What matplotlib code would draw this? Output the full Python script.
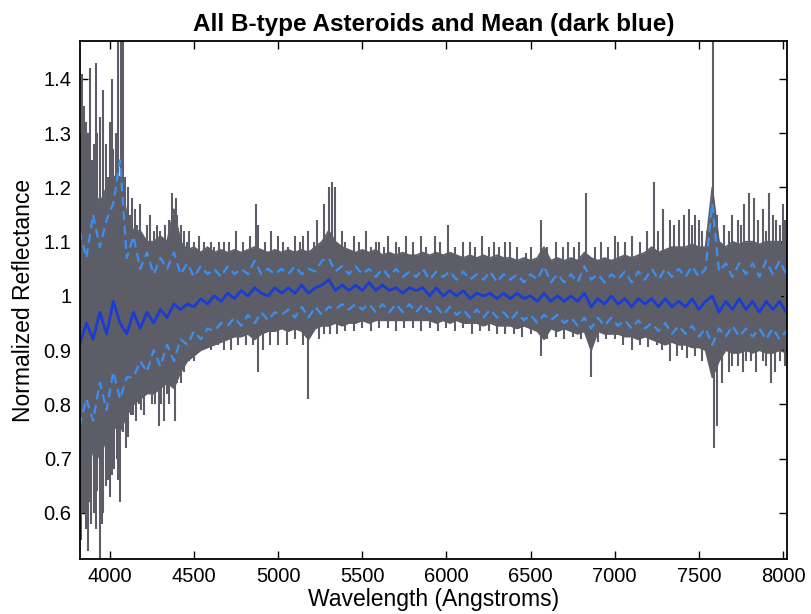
import numpy as np
import matplotlib
matplotlib.use("Agg")
import matplotlib.pyplot as plt

plt.rcParams['font.family'] = ['Liberation Sans', 'DejaVu Sans']

# Wavelength sampling (Angstroms)
wavelength = np.arange(3820, 8021, 40)

mean_refl = [
    0.91, 0.95, 0.92, 0.97, 0.93, 0.99, 0.95, 0.93, 0.97, 0.94,
    0.97, 0.95, 0.975, 0.96, 0.985, 0.975, 0.985, 0.98, 0.995, 0.985,
    1.0, 0.99, 1.005, 0.995, 1.01, 1.0, 1.015, 1.005, 1.0, 1.015,
    1.005, 1.015, 1.005, 1.02, 1.005, 1.015, 1.02, 1.03, 1.01, 1.02,
    1.01, 1.02, 1.01, 1.025, 1.01, 1.02, 1.01, 1.015, 1.005, 1.015,
    1.01, 1.015, 1.0, 1.015, 1.0, 1.01, 1.0, 1.01, 0.995, 1.005,
    1.0, 1.005, 0.995, 1.005, 0.995, 1.005, 0.995, 1.0, 0.99, 1.005,
    0.99, 1.0, 0.99, 1.0, 0.99, 1.005, 0.98, 0.995, 0.985, 1.0,
    0.985, 0.995, 0.98, 0.995, 0.985, 0.995, 0.98, 0.995, 0.98, 0.99,
    0.98, 0.995, 0.975, 0.99, 1.0, 0.97, 0.99, 0.975, 0.995, 0.975,
    0.99, 0.97, 0.99, 0.975, 0.99, 0.97,
]

std_upper = [
    1.12, 1.07, 1.15, 1.09, 1.14, 1.17, 1.25, 1.07, 1.11, 1.05,
    1.08, 1.04, 1.07, 1.05, 1.08, 1.04, 1.06, 1.035, 1.055, 1.04,
    1.05, 1.035, 1.055, 1.04, 1.05, 1.04, 1.065, 1.04, 1.05, 1.04,
    1.05, 1.04, 1.055, 1.04, 1.05, 1.045, 1.065, 1.07, 1.045, 1.055,
    1.04, 1.055, 1.04, 1.05, 1.035, 1.05, 1.035, 1.05, 1.035, 1.045,
    1.035, 1.05, 1.03, 1.045, 1.035, 1.045, 1.03, 1.045, 1.03, 1.04,
    1.03, 1.045, 1.025, 1.04, 1.03, 1.04, 1.025, 1.04, 1.03, 1.055,
    1.025, 1.04, 1.025, 1.04, 1.025, 1.055, 1.03, 1.04, 1.025, 1.04,
    1.03, 1.045, 1.025, 1.045, 1.03, 1.05, 1.03, 1.05, 1.035, 1.05,
    1.035, 1.055, 1.035, 1.05, 1.17, 1.045, 1.06, 1.035, 1.06, 1.04,
    1.06, 1.035, 1.065, 1.04, 1.065, 1.04,
]

std_lower = [
    0.76, 0.81, 0.77, 0.84, 0.79, 0.86, 0.81, 0.85, 0.85, 0.88,
    0.86, 0.90, 0.87, 0.91, 0.88, 0.92, 0.91, 0.935, 0.92, 0.94,
    0.935, 0.95, 0.945, 0.96, 0.945, 0.965, 0.95, 0.97, 0.955, 0.97,
    0.965, 0.975, 0.96, 0.98, 0.96, 0.98, 0.965, 0.98, 0.975, 0.985,
    0.975, 0.985, 0.975, 0.985, 0.97, 0.985, 0.97, 0.985, 0.97, 0.985,
    0.97, 0.985, 0.97, 0.98, 0.965, 0.98, 0.965, 0.975, 0.96, 0.975,
    0.96, 0.975, 0.96, 0.97, 0.955, 0.97, 0.955, 0.965, 0.95, 0.965,
    0.955, 0.965, 0.95, 0.96, 0.945, 0.96, 0.94, 0.96, 0.945, 0.96,
    0.945, 0.955, 0.94, 0.955, 0.94, 0.95, 0.935, 0.95, 0.93, 0.945,
    0.93, 0.945, 0.925, 0.94, 0.91, 0.94, 0.925, 0.945, 0.925, 0.94,
    0.925, 0.94, 0.92, 0.94, 0.92, 0.935,
]

envelope_upper = [
    1.30, 1.22, 1.20, 1.17, 1.20, 1.22, 1.22, 1.15, 1.12, 1.12,
    1.10, 1.10, 1.11, 1.10, 1.16, 1.10, 1.085, 1.09, 1.08, 1.09,
    1.08, 1.085, 1.08, 1.085, 1.08, 1.085, 1.09, 1.085, 1.08, 1.085,
    1.08, 1.085, 1.08, 1.085, 1.08, 1.09, 1.10, 1.12, 1.10, 1.09,
    1.085, 1.08, 1.085, 1.08, 1.085, 1.075, 1.08, 1.075, 1.08, 1.075,
    1.075, 1.08, 1.075, 1.08, 1.075, 1.08, 1.075, 1.07, 1.075, 1.07,
    1.075, 1.07, 1.075, 1.07, 1.07, 1.065, 1.07, 1.065, 1.07, 1.09,
    1.065, 1.07, 1.065, 1.07, 1.065, 1.08, 1.07, 1.065, 1.07, 1.065,
    1.07, 1.075, 1.07, 1.075, 1.08, 1.09, 1.08, 1.085, 1.09, 1.09,
    1.09, 1.095, 1.09, 1.09, 1.20, 1.10, 1.09, 1.10, 1.095, 1.10,
    1.10, 1.095, 1.10, 1.10, 1.10, 1.10,
]

envelope_lower = [
    0.62, 0.66, 0.72, 0.70, 0.74, 0.76, 0.75, 0.78, 0.80, 0.81,
    0.82, 0.82, 0.83, 0.84, 0.83, 0.86, 0.88, 0.89, 0.90, 0.905,
    0.91, 0.915, 0.92, 0.925, 0.925, 0.93, 0.92, 0.93, 0.935, 0.935,
    0.94, 0.935, 0.94, 0.935, 0.92, 0.94, 0.945, 0.945, 0.95, 0.945,
    0.95, 0.95, 0.955, 0.95, 0.955, 0.955, 0.955, 0.955, 0.955, 0.955,
    0.955, 0.955, 0.955, 0.95, 0.955, 0.95, 0.955, 0.95, 0.95, 0.95,
    0.945, 0.95, 0.945, 0.945, 0.945, 0.94, 0.945, 0.94, 0.935, 0.92,
    0.94, 0.935, 0.94, 0.935, 0.93, 0.935, 0.90, 0.935, 0.93, 0.93,
    0.93, 0.925, 0.925, 0.92, 0.925, 0.92, 0.915, 0.91, 0.915, 0.91,
    0.91, 0.905, 0.905, 0.90, 0.85, 0.88, 0.90, 0.895, 0.895, 0.90,
    0.895, 0.90, 0.895, 0.895, 0.90, 0.895,
]

# Narrow spikes of individual spectra above the band (wavelength, peak)
spike_up_wl = [3825, 3835, 3845, 3855, 3870, 3880, 3895, 3905, 3918, 3925,
               3940, 3960, 3975, 3990, 4000, 4010, 4020, 4035, 4050, 4065,
               4080, 4090, 4110, 4120, 4130, 4150, 4160, 4180, 4200, 4220,
               4240, 4260, 4280, 4300, 4330, 4350, 4370, 4390, 4400, 4420,
               4440, 4460, 4470, 4500, 4530, 4560, 4600, 4620, 4650, 4680,
               4710, 4750, 4790, 4830, 4870, 4880, 4920, 4960, 5000, 5030,
               5060, 5100, 5130, 5150, 5180, 5210, 5230, 5270, 5300, 5320,
               5340, 5380, 5400, 5450, 5480, 5520, 5550, 5580, 5600, 5630,
               5650, 5700, 5720, 5760, 5800, 5850, 5880, 5930, 5960, 6010,
               6050, 6100, 6140, 6170, 6210, 6250, 6280, 6310, 6350, 6380,
               6420, 6470, 6500, 6560, 6600, 6650, 6690, 6720, 6760, 6790,
               6830, 6880, 6920, 6960, 7000, 7020, 7060, 7100, 7150, 7190,
               7233, 7260, 7290, 7330, 7350, 7380, 7410, 7440, 7460, 7480,
               7500, 7520, 7550, 7586, 7610, 7650, 7680, 7700, 7730, 7750,
               7770, 7800, 7830, 7850, 7880, 7900, 7920, 7940, 7960, 7980,
               8000, 8015]
spike_up_val = [1.30, 1.41, 1.35, 1.32, 1.30, 1.42, 1.25, 1.28, 1.43, 1.30,
                1.33, 1.38, 1.28, 1.22, 1.32, 1.40, 1.27, 1.30, 1.47, 1.47,
                1.47, 1.22, 1.20, 1.15, 1.18, 1.16, 1.13, 1.17, 1.10, 1.13,
                1.15, 1.12, 1.13, 1.12, 1.13, 1.14, 1.19, 1.18, 1.15, 1.13,
                1.12, 1.10, 1.12, 1.10, 1.11, 1.10, 1.10, 1.09, 1.10, 1.10,
                1.10, 1.12, 1.10, 1.11, 1.17, 1.13, 1.10, 1.12, 1.11, 1.10,
                1.09, 1.11, 1.10, 1.11, 1.12, 1.10, 1.14, 1.17, 1.20, 1.21,
                1.20, 1.12, 1.10, 1.11, 1.10, 1.12, 1.09, 1.10, 1.10, 1.09,
                1.11, 1.10, 1.09, 1.11, 1.10, 1.11, 1.09, 1.11, 1.10, 1.13,
                1.09, 1.10, 1.10, 1.09, 1.11, 1.09, 1.10, 1.09, 1.10, 1.10,
                1.09, 1.08, 1.09, 1.14, 1.09, 1.10, 1.09, 1.10, 1.09, 1.10,
                1.19, 1.09, 1.10, 1.09, 1.11, 1.10, 1.10, 1.11, 1.10, 1.12,
                1.21, 1.12, 1.16, 1.14, 1.13, 1.14, 1.15, 1.16, 1.13, 1.15,
                1.14, 1.12, 1.12, 1.47, 1.15, 1.13, 1.12, 1.15, 1.14, 1.13,
                1.17, 1.19, 1.18, 1.14, 1.16, 1.12, 1.19, 1.15, 1.14, 1.13,
                1.17, 1.14]

# Narrow dips of individual spectra below the band (wavelength, minimum)
spike_dn_wl = [3830, 3840, 3850, 3860, 3870, 3880, 3890, 3905, 3915, 3925,
               3940, 3950, 3960, 3975, 3990, 4000, 4010, 4025, 4040, 4050,
               4060, 4080, 4095, 4110, 4125, 4140, 4155, 4170, 4185, 4200,
               4230, 4250, 4270, 4290, 4305, 4320, 4340, 4350, 4385, 4400,
               4420, 4440, 4470, 4500, 4550, 4600, 4640, 4680, 4720, 4760,
               4810, 4850, 4880, 4910, 4950, 5000, 5050, 5100, 5150, 5180,
               5240, 5270, 5310, 5350, 5400, 5450, 5500, 5550, 5600, 5650,
               5700, 5750, 5800, 5850, 5900, 5950, 6000, 6050, 6100, 6150,
               6200, 6250, 6300, 6350, 6400, 6450, 6500, 6560, 6600, 6650,
               6700, 6750, 6800, 6860, 6900, 6950, 7000, 7050, 7100, 7150,
               7200, 7250, 7280, 7330, 7370, 7400, 7430, 7480, 7520, 7560,
               7590, 7610, 7640, 7680, 7700, 7730, 7760, 7780, 7810, 7840,
               7880, 7900, 7930, 7950, 7980, 8010]
spike_dn_val = [0.55, 0.60, 0.60, 0.57, 0.53, 0.62, 0.58, 0.60, 0.57, 0.64,
                0.50, 0.58, 0.60, 0.65, 0.66, 0.63, 0.67, 0.68, 0.70, 0.66,
                0.62, 0.75, 0.72, 0.74, 0.78, 0.78, 0.77, 0.80, 0.79, 0.78,
                0.82, 0.80, 0.80, 0.76, 0.80, 0.77, 0.82, 0.80, 0.77, 0.84,
                0.84, 0.86, 0.88, 0.88, 0.90, 0.90, 0.91, 0.90, 0.90, 0.91,
                0.91, 0.91, 0.86, 0.90, 0.91, 0.91, 0.91, 0.92, 0.91, 0.81,
                0.92, 0.93, 0.93, 0.93, 0.935, 0.935, 0.94, 0.935, 0.94, 0.94,
                0.935, 0.94, 0.94, 0.935, 0.94, 0.935, 0.94, 0.935, 0.94, 0.93,
                0.935, 0.935, 0.93, 0.93, 0.93, 0.925, 0.93, 0.89, 0.92, 0.925,
                0.92, 0.925, 0.92, 0.85, 0.915, 0.92, 0.92, 0.91, 0.90, 0.91,
                0.905, 0.91, 0.90, 0.88, 0.89, 0.90, 0.885, 0.89, 0.88, 0.88,
                0.72, 0.76, 0.84, 0.86, 0.87, 0.87, 0.86, 0.88, 0.88, 0.86,
                0.88, 0.87, 0.84, 0.86, 0.88, 0.87]

gray = '#5d5d68'
light_blue = '#3b8ff2'
dark_blue = '#1a3cd0'

fig = plt.figure(figsize=(8.12, 6.14), dpi=100)
ax = fig.add_axes([0.0985, 0.0896, 0.8707, 0.8436])

ax.fill_between(wavelength, envelope_lower, envelope_upper, color=gray, lw=0)
ax.plot(wavelength, envelope_upper, color=gray, lw=1.2)
ax.plot(wavelength, envelope_lower, color=gray, lw=1.2)
ax.vlines(spike_up_wl, 1.0, spike_up_val, color=gray, lw=1.5)
ax.vlines(spike_dn_wl, spike_dn_val, 1.0, color=gray, lw=1.5)

ax.plot(wavelength, std_upper, color=light_blue, lw=1.6, dashes=(4, 2.5))
ax.plot(wavelength, std_lower, color=light_blue, lw=1.6, dashes=(4, 2.5))
ax.plot(wavelength, mean_refl, color=dark_blue, lw=2.0)

ax.set_xlim(3822, 8024)
ax.set_ylim(0.515, 1.47)
ax.set_xticks([4000, 4500, 5000, 5500, 6000, 6500, 7000, 7500, 8000])
ax.set_yticks([0.6, 0.7, 0.8, 0.9, 1.0, 1.1, 1.2, 1.3, 1.4])
ax.set_yticklabels(['0.6', '0.7', '0.8', '0.9', '1', '1.1', '1.2', '1.3', '1.4'])
ax.tick_params(direction='in', top=True, right=True, length=6, width=1.0,
               labelsize=14.5, colors='black', pad=6)
for s in ax.spines.values():
    s.set_linewidth(1.3)

ax.set_xlabel('Wavelength (Angstroms)', fontsize=16.5, labelpad=1)
ax.set_ylabel('Normalized Reflectance', fontsize=16.5, labelpad=6)
ax.set_title('All B-type Asteroids and Mean (dark blue)', fontsize=17.5,
             fontweight='bold', pad=7)

fig.savefig('out.png', dpi=100)
